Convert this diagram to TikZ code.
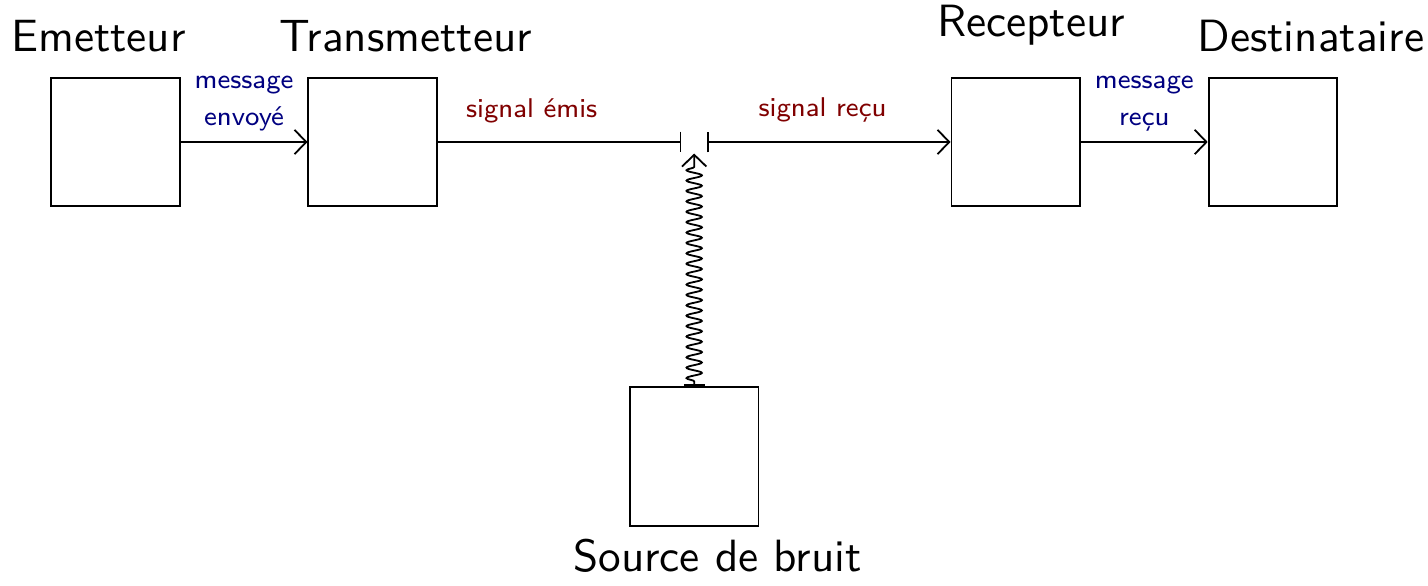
\documentclass[tikz,border=0pt]{standalone}
\usepackage{fontspec}
\usetikzlibrary{arrows.meta,decorations.pathmorphing}

\tikzset{
  block/.style={draw, minimum width=1cm, minimum height=1cm, inner sep=0pt},
  title/.style={anchor=base, font=\sffamily},
  msg/.style={font=\sffamily\fontsize{6}{8.1}\selectfont, text=blue!50!black, align=center,
    anchor=south, inner sep=0pt, yshift=2.2pt},
  sig/.style={anchor=base, font=\sffamily\fontsize{6}{8.1}\selectfont, text=red!50!black},
  >={Straight Barb[length=2.6pt, width=5.4pt]},
}

\begin{document}
\begin{tikzpicture}
\useasboundingbox (-0.898,-3.445) rectangle (10.206,1.104);

% Blocks of the chain
\node[block] (em) at (0,0) {};
\node[block] (tr) at (2,0) {};
\node[block] (re) at (7,0) {};
\node[block] (de) at (9,0) {};
\node[block, minimum height=1.083cm] (br) at (4.5,-2.445) {};

% Titles
\node[title] (emt) at (-0.132,0.70) {Emetteur};
\node[title] (trt) at (2.257,0.70) {Transmetteur};
\node[title] (ret) at (7.12,0.824) {Recepteur};
\node[title] (det) at (9.296,0.70) {Destinataire};
\node[title] (brt) at (4.681,-3.341) {Source de bruit};

% Gap where the noise comes in
\coordinate (J1) at (4.4,0);
\coordinate (J2) at (4.6,0);
\coordinate (J) at (4.5,-0.09);

% Messages
\draw[->] (em) -- node[msg] {message\\envoyé} (tr);
\draw[->] (re) -- node[msg] {message\\reçu} (de);

% Signal
\draw[-|] (tr) -- (J1);
\draw[|->] (J2) -- (re);
\node[sig] (se) at (3.236,0.187) {signal émis};
\node[sig] (sr) at (5.498,0.197) {signal reçu};

% Noise
\draw[|->, decorate, decoration={snake, amplitude=1.7pt, segment length=2.3pt, pre length=1pt, post length=2.5pt}] (br) -- (J);

\end{tikzpicture}
\end{document}
